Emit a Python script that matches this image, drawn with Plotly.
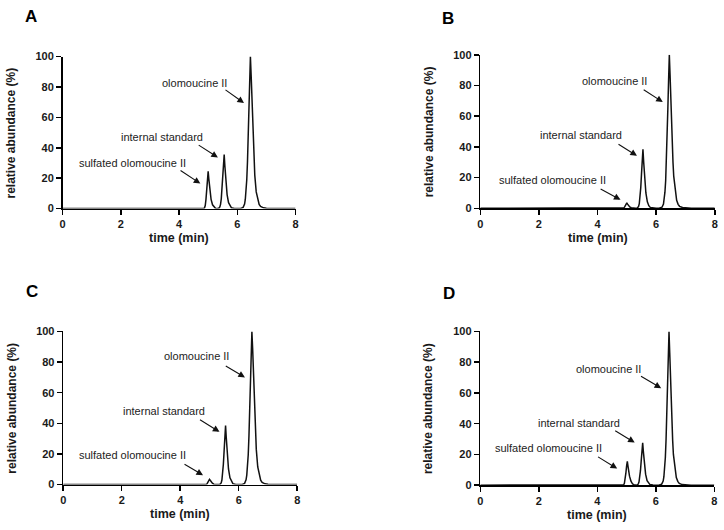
import plotly.graph_objects as go

# ---------------- data ----------------
time_min = [0.0,
            4.80, 4.85, 4.875, 4.90, 4.925, 4.95, 4.975, 5.00, 5.025, 5.05, 5.075, 5.10, 5.15, 5.20, 5.25, 5.30,
            5.35, 5.375, 5.40, 5.425, 5.45, 5.475, 5.50, 5.525, 5.55, 5.575, 5.60, 5.625, 5.65, 5.70, 5.75, 5.80, 5.90, 6.00,
            6.10, 6.20, 6.25, 6.275, 6.30, 6.325, 6.35, 6.375, 6.40, 6.425, 6.45, 6.475, 6.50, 6.525, 6.55, 6.575, 6.60,
            6.65, 6.70, 6.75, 6.80, 6.90, 7.00, 7.20,
            8.00]

abundance_A = [0,
               0, 0, 0.5, 2.0, 6.1, 12.3, 19.6, 24.5, 19.1, 13.5, 9.3, 6.1, 2.5, 1.0, 0.2, 0,
               0, 0.4, 1.1, 2.8, 6.4, 12.4, 20.6, 29.1, 35.5, 27.7, 19.5, 13.5, 9.2, 3.9, 1.6, 0.5, 0.1, 0,
               0, 0.8, 3, 6, 11, 19, 31, 47, 66, 85, 100, 88, 72, 56, 42, 31, 22,
               11, 5.5, 2.8, 1.4, 0.5, 0.2, 0,
               0]

abundance_B = [0,
               0, 0, 0.1, 0.3, 0.9, 1.8, 2.8, 3.5, 2.7, 1.9, 1.3, 0.9, 0.4, 0.1, 0, 0,
               0, 0.4, 1.2, 3.1, 6.9, 13.5, 22.3, 31.6, 38.5, 30.0, 21.2, 14.6, 10.0, 4.2, 1.7, 0.6, 0.1, 0,
               0, 0.7, 2.8, 5.7, 10.5, 18, 30, 46, 65, 84, 100, 87, 70, 54, 40, 30, 21,
               10.5, 5.2, 2.6, 1.3, 0.5, 0.2, 0,
               0]

abundance_C = [0,
               0, 0, 0, 0.2, 0.8, 1.7, 2.7, 3.4, 2.8, 2.0, 1.4, 0.9, 0.3, 0.1, 0, 0,
               0, 0.3, 1.1, 3.0, 6.8, 13.3, 22.0, 31.2, 38.5, 30.4, 21.5, 14.9, 10.2, 4.4, 1.8, 0.6, 0.1, 0,
               0, 0.8, 3.1, 6.2, 11.3, 19.5, 32, 48, 67, 86, 100, 89, 73, 57, 43, 32, 23,
               11.5, 5.7, 2.9, 1.4, 0.5, 0.2, 0,
               0]

abundance_D = [0,
               0, 0, 0, 0.3, 1.2, 3.9, 7.8, 12.4, 15.5, 12.1, 8.5, 5.9, 2.6, 0.9, 0.3, 0,
               0, 0.3, 0.8, 2.2, 5.0, 9.6, 16.0, 22.6, 27.5, 21.5, 15.1, 10.5, 7.2, 3.0, 1.2, 0.4, 0.1, 0,
               0, 0.7, 2.7, 5.5, 10.2, 18, 30, 45, 64, 84, 100, 86, 69, 53, 39, 29, 20,
               10, 5, 2.5, 1.2, 0.4, 0.2, 0,
               0]

panel_labels = ["A", "B", "C", "D"]
peak_names = ["olomoucine II", "internal standard", "sulfated olomoucine II"]
x_ticks = [0, 2, 4, 6, 8]
y_ticks = [0, 20, 40, 60, 80, 100]
x_title = "time (min)"
y_title = "relative abundance (%)"

# ---------------- layout helpers ----------------
W, H = 724, 530


def px(xp):
    return xp / W


def py(yp):
    return 1 - yp / H


FONT = "Liberation Sans, Arial, sans-serif"

# plot-area pixel boxes (left, right, top, bottom)
boxes = [
    (60.0, 295.0, 51.7, 207.3),
    (481.3, 717.7, 50.0, 207.0),
    (60.7, 296.7, 333.0, 489.7),
    (481.3, 717.3, 333.0, 490.3),
]
letter_pos = [(28, 11), (449, 13), (29, 292), (450, 294)]
# text centers and arrows (tail -> head) in pixels, per panel, order: olo, IS, sulf
text_pos = [
    [(193.3, 79), (160.7, 134.3), (130.7, 160.3)],
    [(616.3, 76.7), (583, 132.3), (554, 177.7)],
    [(195, 358.3), (162.3, 414), (131, 459)],
    [(610.3, 371), (581, 426.7), (550.3, 452.3)],
]
arrows = [
    [((223, 85), (243, 99.3)), ((196, 141.7), (216.7, 155)), ((177.7, 167.7), (199, 181.7))],
    [((644.7, 85), (665.3, 98.3)), ((619.3, 140.7), (639.3, 153.3)), ((601.3, 186.7), (622.7, 198.3))],
    [((223.3, 367.7), (244, 380)), ((197.3, 422.7), (218.3, 435.7)), ((181.7, 468.3), (201.7, 480))],
    [((642, 378.3), (663.7, 391)), ((616, 434), (637, 446.7)), ((598.7, 460.7), (619.3, 473.3))],
]

series = [abundance_A, abundance_B, abundance_C, abundance_D]

fig = go.Figure()
annotations = []
layout_axes = {}

for i, (vals, box) in enumerate(zip(series, boxes)):
    n = "" if i == 0 else str(i + 1)
    xa, ya = "x" + n, "y" + n
    fig.add_trace(go.Scatter(x=time_min, y=vals, mode="lines", xaxis=xa, yaxis=ya,
                             line=dict(color="#111111", width=1.5), showlegend=False,
                             hoverinfo="skip"))
    l, r, t, b = box
    axis_common = dict(showline=True, linecolor="black", linewidth=1.5, ticks="outside",
                       ticklen=5, tickwidth=1.5, tickcolor="black", showgrid=False,
                       zeroline=False, ticklabeloverflow="allow",
                       tickfont=dict(family=FONT, size=11, color="#1a1a1a", weight="bold"))
    layout_axes["xaxis" + n] = dict(axis_common, domain=[px(l), px(r)], range=[0, 8],
                                    tickvals=x_ticks, anchor=ya, fixedrange=True)
    layout_axes["yaxis" + n] = dict(axis_common, domain=[py(b), py(t)], range=[0, 100],
                                    tickvals=y_ticks, anchor=xa, fixedrange=True)
    # axis titles
    annotations.append(dict(text=x_title, xref="paper", yref="paper",
                            x=px((l + r) / 2), y=py(b + 30), showarrow=False,
                            xanchor="center", yanchor="middle",
                            font=dict(family=FONT, size=12.5, color="#1a1a1a", weight="bold")))
    annotations.append(dict(text=y_title, xref="paper", yref="paper",
                            x=px(l - 52), y=py((t + b) / 2), showarrow=False, textangle=-90,
                            xanchor="center", yanchor="middle",
                            font=dict(family=FONT, size=12, color="#1a1a1a", weight="bold")))
    # panel letter
    lx, ly = letter_pos[i]
    annotations.append(dict(text=panel_labels[i], xref="paper", yref="paper",
                            x=px(lx), y=py(ly), showarrow=False, xanchor="center",
                            yanchor="middle",
                            font=dict(family=FONT, size=17, color="black", weight="bold")))
    # peak labels and arrows
    for k, name in enumerate(peak_names):
        tx, ty = text_pos[i][k]
        annotations.append(dict(text=name, xref="paper", yref="paper", x=px(tx), y=py(ty),
                                showarrow=False, xanchor="center", yanchor="middle",
                                font=dict(family=FONT, size=11, color="#222222")))
        (sx, sy), (hx, hy) = arrows[i][k]
        annotations.append(dict(text="", xref="paper", yref="paper", x=px(hx), y=py(hy),
                                ax=sx - hx, ay=sy - hy, showarrow=True, arrowhead=2,
                                arrowsize=1.2, arrowwidth=1.1, arrowcolor="#111111"))

fig.update_layout(width=W, height=H, margin=dict(l=0, r=0, t=0, b=0),
                  paper_bgcolor="white", plot_bgcolor="white",
                  annotations=annotations, **layout_axes)

fig.write_html("out.html", config={"displayModeBar": False, "staticPlot": True},
               post_script="document.body.style.margin='0';document.body.style.padding='0';"
                           "document.body.style.overflow='hidden';")
